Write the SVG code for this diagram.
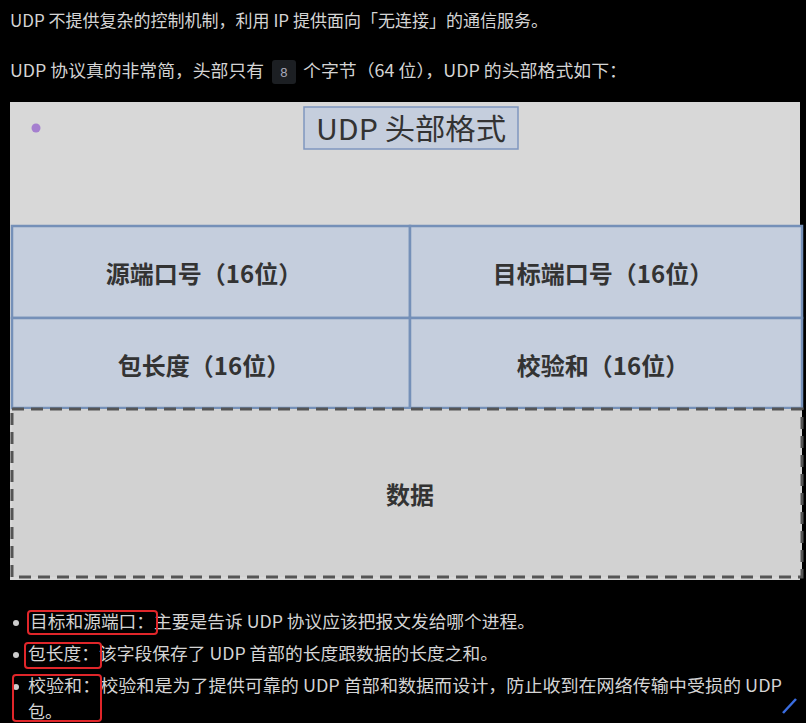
<svg xmlns="http://www.w3.org/2000/svg" width="806" height="723" viewBox="0 0 806 723">
<style>
.t{font-family:"Noto Sans CJK SC","Noto Sans",sans-serif;font-size:17px;fill:#d4d4d4}
.cell{fill:#c5cedd;stroke:#7590b8;stroke-width:2.5}
.lbl{font-family:"Noto Sans CJK SC",sans-serif;font-size:24px;font-weight:bold;fill:#333;text-anchor:middle}
.red{fill:none;stroke:#e0262a;stroke-width:2;rx:3}
</style>
<rect width="806" height="723" fill="#000"/>
<text class="t" x="10" y="27" textLength="538" lengthAdjust="spacingAndGlyphs">UDP 不提供复杂的控制机制，利用 IP 提供面向「无连接」的通信服务。</text>
<text class="t" x="10" y="77" textLength="254" lengthAdjust="spacingAndGlyphs">UDP 协议真的非常简，头部只有</text>
<rect x="272" y="60" width="24" height="24" rx="3" fill="#1c1f23"/>
<text x="284" y="77" font-family="Liberation Mono,monospace" font-size="13" fill="#aab" text-anchor="middle">8</text>
<text class="t" x="303" y="77" textLength="324" lengthAdjust="spacingAndGlyphs">个字节（64 位），UDP 的头部格式如下：</text>

<g id="image">
<rect x="10" y="102" width="790" height="478" fill="#d8d8d8"/>
<circle cx="36" cy="128" r="4.5" fill="#a57fcf"/>
<g id="title">
<rect x="304" y="107" width="214" height="42" fill="#c5cedd" stroke="#7f96bf" stroke-width="1.5"/>
<text x="316" y="140" font-family="Noto Sans CJK SC,sans-serif" font-size="29" fill="#333" textLength="190" lengthAdjust="spacingAndGlyphs">UDP 头部格式</text>
</g>
<g id="src"><rect class="cell" x="12" y="226" width="398" height="92"/><text class="lbl" x="204" y="283">源端口号（16位）</text></g>
<g id="dst"><rect class="cell" x="410" y="226" width="392" height="92"/><text class="lbl" x="603" y="283">目标端口号（16位）</text></g>
<g id="len"><rect class="cell" x="12" y="318" width="398" height="90"/><text class="lbl" x="204" y="375">包长度（16位）</text></g>
<g id="sum"><rect class="cell" x="410" y="318" width="392" height="90"/><text class="lbl" x="603" y="375">校验和（16位）</text></g>
<g id="data"><rect x="12" y="409" width="790" height="168" fill="#d2d2d2" stroke="#555" stroke-width="3" stroke-dasharray="12,7"/><text class="lbl" x="410" y="504">数据</text></g>
</g>

<g id="bullets">
<circle cx="16" cy="623" r="3" fill="#ccc"/>
<circle cx="16" cy="655" r="3" fill="#ccc"/>
<circle cx="16" cy="687" r="3" fill="#ccc"/>
<text class="t" x="30" y="628" textLength="505" lengthAdjust="spacingAndGlyphs">目标和源端口：主要是告诉 UDP 协议应该把报文发给哪个进程。</text>
<text class="t" x="28" y="660" textLength="470" lengthAdjust="spacingAndGlyphs">包长度：该字段保存了 UDP 首部的长度跟数据的长度之和。</text>
<text class="t" x="28" y="692" textLength="754" lengthAdjust="spacingAndGlyphs">校验和：校验和是为了提供可靠的 UDP 首部和数据而设计，防止收到在网络传输中受损的 UDP</text>
<text class="t" x="28" y="718">包。</text>
<rect class="red" x="28" y="611" width="129" height="23"/>
<rect class="red" x="25" y="643" width="76" height="25"/>
<rect class="red" x="13" y="675" width="88" height="46"/>
<line x1="796" y1="699" x2="783" y2="713" stroke="#3a6de0" stroke-width="2.5"/>
</g>
</svg>
